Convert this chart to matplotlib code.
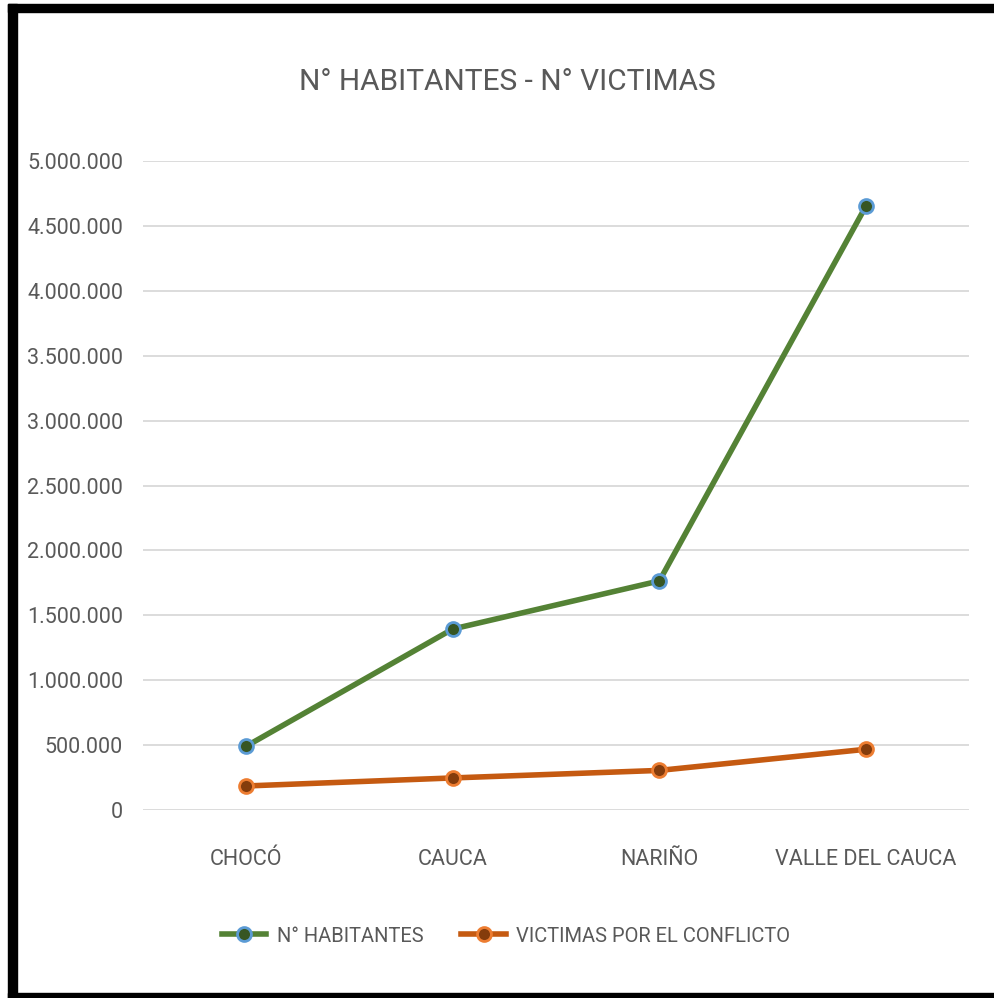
import matplotlib.pyplot as plt
from matplotlib.patches import Rectangle
from matplotlib.ticker import FuncFormatter

# data
departamentos = ['CHOCÓ', 'CAUCA', 'NARIÑO', 'VALLE DEL CAUCA']
habitantes = [490000, 1394000, 1765000, 4655000]
victimas = [185000, 247000, 305000, 468000]

plt.rcParams['font.family'] = ['Roboto', 'DejaVu Sans']
gris = '#595959'

fig = plt.figure(figsize=(9.95, 9.98), dpi=100)
ax = fig.add_axes([142.5/995, 1-810/998, 827/995, 649/998])

x = range(len(departamentos))
ax.plot(x, habitantes, color='#548235', lw=4, marker='o', ms=10,
        mfc='#375623', mec='#5B9BD5', mew=2, label='N° HABITANTES', zorder=3)
ax.plot(x, victimas, color='#C55A11', lw=4, marker='o', ms=10,
        mfc='#843C0C', mec='#ED7D31', mew=2, label='VICTIMAS POR EL CONFLICTO', zorder=3)

ax.set_xlim(-0.5, len(departamentos) - 0.5)
ax.set_ylim(0, 5000000)
ax.set_yticks(range(0, 5000001, 500000))
ax.yaxis.set_major_formatter(FuncFormatter(lambda v, p: f'{int(v):,}'.replace(',', '.')))
ax.set_xticks(list(x))
ax.set_xticklabels(departamentos)
ax.grid(axis='y', color='#D9D9D9', lw=1.3)
ax.set_axisbelow(True)
for s in ax.spines.values():
    s.set_visible(False)
ax.tick_params(length=0, labelsize=15.5, colors=gris)
ax.tick_params(axis='y', pad=14)
ax.tick_params(axis='x', pad=28)

fig.text(507/995, 1-82/998, 'N° HABITANTES - N° VICTIMAS', ha='center', va='center',
         fontsize=21.5, color=gris)

fig.legend(loc='center', bbox_to_anchor=(506/995, 1-936/998), ncol=2, frameon=False,
           fontsize=14.5, labelcolor=gris, handlelength=2.2, columnspacing=1.9,
           handletextpad=0.5)

# black frame (left, top, bottom)
fig.patches.append(Rectangle((8/995, 0), 9/995, 1-4/998, transform=fig.transFigure,
                             color='black', zorder=10))
fig.patches.append(Rectangle((8/995, 1-12/998), 1, 8/998, transform=fig.transFigure,
                             color='black', zorder=10))
fig.patches.append(Rectangle((8/995, 0), 1, 5/998, transform=fig.transFigure,
                             color='black', zorder=10))

plt.savefig('out.png', dpi=100)
plt.close('all')
